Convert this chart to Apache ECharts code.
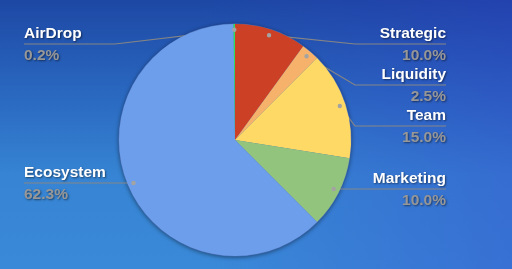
<!DOCTYPE html>
<html>
<head>
<meta charset="utf-8">
<script src="https://cdn.jsdelivr.net/npm/echarts@6/dist/echarts.min.js"></script>
<style>
html,body{margin:0;padding:0;width:512px;height:269px;overflow:hidden;}
#chart{width:512px;height:269px;
background:
 linear-gradient(90deg, rgba(40,40,190,0) 40%, rgba(50,50,200,0.28) 100%),
 linear-gradient(180deg, #1d48a4 0%, #2a68c0 35%, #3684d3 65%, #3a89d8 100%);}
</style>
</head>
<body>
<div id="chart"></div>
<script>
// ---- data ----
const categories = ['Strategic', 'Liquidity', 'Team', 'Marketing', 'Ecosystem', 'AirDrop'];
const shares = [10.0, 2.5, 15.0, 10.0, 62.3, 0.2];
const sliceColors = ['#cc4125', '#f6b26b', '#ffd966', '#93c47d', '#6d9eeb', '#2fe05a'];

// ---- layout ----
const CX = 235, CY = 140, R = 116;
const ANCHOR_RATIO = 0.95;
const LEFT_X = 24, RIGHT_X = 446;
const labelRowY = [44, 85, 126, 189, 183, 44];

const total = shares.reduce((a, b) => a + b, 0);
const spans = [];
let acc = 0;
shares.forEach(v => { spans.push([acc / total * 360, (acc + v) / total * 360]); acc += v; });

const anchors = [];

const chart = echarts.init(document.getElementById('chart'), null, {renderer: 'canvas'});

function computeLayout(params) {
  const i = params.dataIndex;
  const p0 = params.labelLinePoints ? params.labelLinePoints[0] : [CX, CY - R];
  const r = R * ANCHOR_RATIO;
  const isLeft = p0[0] < CX - 0.5 || (Math.abs(p0[0] - CX) <= 0.5 && spans[i][0] > 180);
  const y = labelRowY[i];
  let ax = CX + (p0[0] - CX) * ANCHOR_RATIO;
  let ay = CY + (p0[1] - CY) * ANCHOR_RATIO;
  const dy = y - CY;
  if (Math.abs(dy) < r) {
    const dx = Math.sqrt(r * r - dy * dy) * (isLeft ? -1 : 1);
    let ang = Math.atan2(dx, -dy) * 180 / Math.PI;
    if (ang < 0) ang += 360;
    let [s, e] = spans[i];
    if (ang < s) ang += 360;
    const f = (ang - s) / (e - s);
    if (f >= 0.3 && f <= 0.65) { ax = CX + dx; ay = y; }
  }
  anchors[i] = [ax, ay];
  const elbowX = isLeft ? CX - R - 4 : CX + R + 4;
  const endX = isLeft ? LEFT_X : RIGHT_X;
  return {
    x: endX,
    y: y + 1,
    align: isLeft ? 'left' : 'right',
    verticalAlign: 'middle',
    labelLinePoints: [[ax, ay], [elbowX, y], [endX, y]]
  };
}

const txtShadow = {
  textShadowColor: 'rgba(0,0,0,0.5)',
  textShadowBlur: 2,
  textShadowOffsetX: 1,
  textShadowOffsetY: 1
};

chart.setOption({
  animation: false,
  series: [
    {
      type: 'pie',
      silent: true,
      center: [CX, CY],
      radius: [0, R + 0.5],
      data: [{value: 1}],
      label: {show: false},
      labelLine: {show: false},
      itemStyle: {color: '#4a6fb8', shadowBlur: 4, shadowColor: 'rgba(0,0,0,0.45)', shadowOffsetY: 1},
      z: 1
    },
    {
      type: 'pie',
      center: [CX, CY],
      radius: [0, R],
      startAngle: 90,
      clockwise: true,
      avoidLabelOverlap: false,
      z: 2,
      itemStyle: {borderWidth: 0},
      data: categories.map((c, i) => ({name: c, value: shares[i], itemStyle: {color: sliceColors[i]}})),
      label: {
        show: true,
        formatter: p => '{n|' + p.name + '}\n{p|' + p.value.toFixed(1) + '%}',
        rich: {
          n: Object.assign({fontFamily: 'Liberation Sans, Arial, sans-serif', fontWeight: 'bold', fontSize: 15.5, color: '#ffffff', lineHeight: 22}, txtShadow),
          p: Object.assign({fontFamily: 'Liberation Sans, Arial, sans-serif', fontWeight: 'bold', fontSize: 15.5, color: '#979797', lineHeight: 22}, txtShadow)
        }
      },
      labelLine: {show: true, length: 10, length2: 10, lineStyle: {color: '#858585', width: 1.2}},
      labelLayout: computeLayout
    }
  ]
});

chart.setOption({
  graphic: anchors.map(a => ({
    type: 'circle',
    shape: {cx: a[0], cy: a[1], r: 2.2},
    style: {fill: '#a3a3a3'},
    z: 100
  }))
});
</script>
</body>
</html>
